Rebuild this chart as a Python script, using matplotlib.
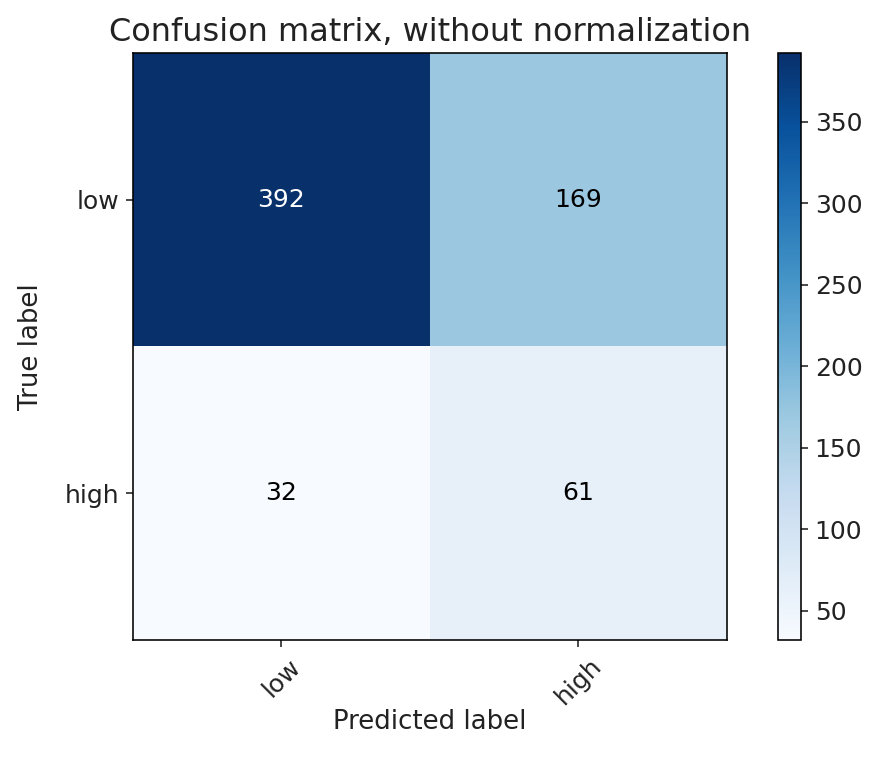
import numpy as np
import matplotlib
matplotlib.use("Agg")
import matplotlib.pyplot as plt

# data
classes = ["low", "high"]
cm = np.array([[392, 169],
               [32, 61]])
title = "Confusion matrix, without normalization"

plt.rcParams["font.size"] = 13
plt.rcParams["text.color"] = "#222222"
plt.rcParams["axes.labelcolor"] = "#222222"
plt.rcParams["xtick.color"] = "#222222"
plt.rcParams["ytick.color"] = "#222222"

fig = plt.figure(figsize=(878 / 144, 759 / 144), dpi=144)
ax = fig.add_axes([0.1515, 0.157, 0.676, 0.773])
cax = fig.add_axes([0.886, 0.157, 0.026, 0.773])

im = ax.imshow(cm, interpolation="nearest", cmap=plt.cm.Blues, aspect="auto")
ax.set_title(title, fontsize=16)
cb = fig.colorbar(im, cax=cax)
cb.outline.set_linewidth(0.8)
cb.ax.tick_params(labelsize=12.5)

ticks = np.arange(len(classes))
ax.set_xticks(ticks)
ax.set_xticklabels(classes, rotation=45)
ax.set_yticks(ticks)
ax.set_yticklabels(classes)
ax.tick_params(labelsize=12.5)

thresh = cm.max() / 2.0
for i in range(cm.shape[0]):
    for j in range(cm.shape[1]):
        ax.text(j, i, format(cm[i, j], "d"),
                ha="center", va="center", fontsize=12.5,
                color="white" if cm[i, j] > thresh else "black")

ax.set_ylabel("True label", labelpad=10)
ax.set_xlabel("Predicted label", labelpad=0)

fig.savefig("out.png", dpi=144)
